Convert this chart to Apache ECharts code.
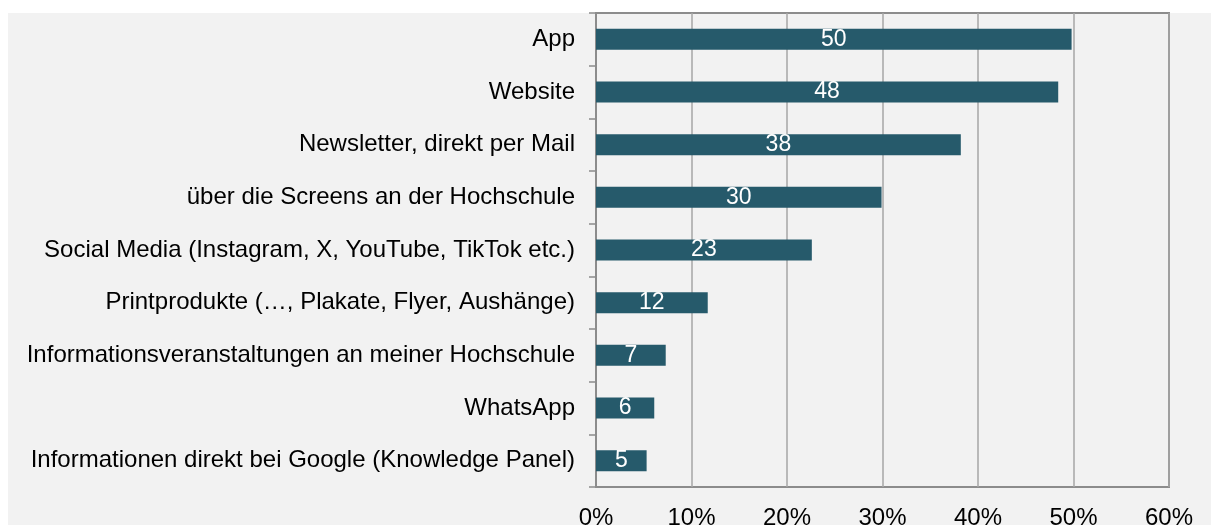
<!DOCTYPE html>
<html><head><meta charset="utf-8">
<script src="https://cdn.jsdelivr.net/npm/echarts@6/dist/echarts.min.js"></script>
<style>html,body{margin:0;padding:0;background:#fff}#c{width:1211px;height:525px}</style>
</head><body><div id="c"></div>
<script>
const categories = ["App","Website","Newsletter, direkt per Mail","über die Screens an der Hochschule","Social Media (Instagram, X, YouTube, TikTok etc.)","Printprodukte (…, Plakate, Flyer, Aushänge)","Informationsveranstaltungen an meiner Hochschule","WhatsApp","Informationen direkt bei Google (Knowledge Panel)"];
const values = [49.8, 48.4, 38.2, 29.9, 22.6, 11.7, 7.3, 6.1, 5.3];
const labels = [50, 48, 38, 30, 23, 12, 7, 6, 5];
const xTicks = [0, 10, 20, 30, 40, 50, 60];

const chart = echarts.init(document.getElementById('c'), null, {renderer:'canvas'});
const font = '"Liberation Sans", Arial, sans-serif';
chart.setOption({
  backgroundColor: '#ffffff',
  animation: false,
  graphic: [{type:'rect', z:-10, shape:{x:8,y:13,width:1203,height:512}, style:{fill:'#f2f2f2'}}],
  grid: {left:596, right:42, top:13, bottom:38, show:true, borderColor:'#8c8c8c', borderWidth:2, backgroundColor:'transparent', outerBoundsMode:'none', containLabel:false},
  xAxis: {type:'value', min:xTicks[0], max:xTicks[xTicks.length-1], interval:10,
    axisLine:{show:false}, axisTick:{show:false},
    splitLine:{show:true, lineStyle:{color:'#a6a6a6', width:1.5}},
    axisLabel:{formatter: v => v + '%', color:'#000', fontSize:24, fontFamily:font, margin:19}},
  yAxis: {type:'category', data:categories, inverse:true,
    axisLine:{show:true, lineStyle:{color:'#8c8c8c', width:2}},
    axisTick:{show:true, length:7, lineStyle:{color:'#8c8c8c', width:1.5}},
    axisLabel:{color:'#000', fontSize:24, fontFamily:font, margin:21}},
  series: [{type:'bar', data:values, barWidth:21,
    itemStyle:{color:'#265a6b'},
    label:{show:true, position:'inside', color:'#fff', fontSize:23, fontFamily:font,
      formatter: p => labels[p.dataIndex]}}]
});
</script></body></html>
